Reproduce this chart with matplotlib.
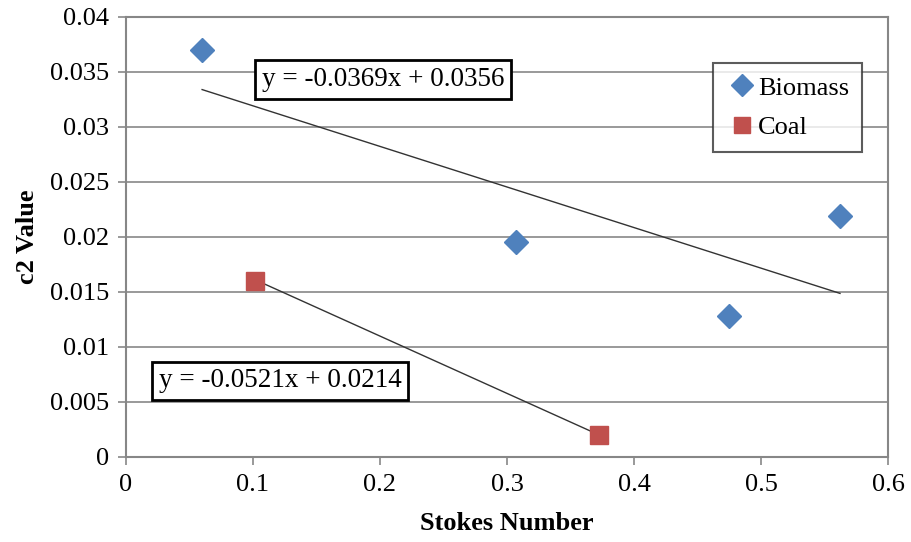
import matplotlib.pyplot as plt
import numpy as np

plt.rcParams['font.family'] = ['Liberation Serif', 'DejaVu Serif']

# stokes number vs c2 value
biomass_x = [0.060, 0.307, 0.475, 0.562]
biomass_y = [0.0370, 0.0195, 0.0128, 0.0219]
coal_x = [0.102, 0.372]
coal_y = [0.0160, 0.0020]

# linear trendlines (slope, intercept)
biomass_fit = (-0.0369, 0.0356)
coal_fit = (-0.0521, 0.0214)

xticks = [0, 0.1, 0.2, 0.3, 0.4, 0.5, 0.6]
yticks = [0, 0.005, 0.01, 0.015, 0.02, 0.025, 0.03, 0.035, 0.04]

fig = plt.figure(figsize=(9.12, 5.42), dpi=100)
ax = fig.add_axes([0.138, 0.157, 0.836, 0.812])

grid_col = '#878787'
for v in yticks[1:]:
    ax.axhline(v, color=grid_col, lw=1.2, zorder=0)

def trend(xs, fit):
    t = np.array([min(xs), max(xs)])
    return t, fit[0] * t + fit[1]

tx, ty = trend(biomass_x, biomass_fit)
ax.plot(tx, ty, color='#333333', lw=1.0, zorder=2)
tx, ty = trend(coal_x, coal_fit)
ax.plot(tx, ty, color='#333333', lw=1.0, zorder=2)

ax.plot(biomass_x, biomass_y, 'D', color='#4F81BD', ms=12, mec='#4F81BD',
        ls='none', label='Biomass', zorder=3)
ax.plot(coal_x, coal_y, 's', color='#C0504D', ms=13, mec='#C0504D',
        ls='none', label='Coal', zorder=3)

box = dict(boxstyle='square,pad=0.25', fc='white', ec='black', lw=2)
ax.text(0.107, 0.0343, 'y = -0.0369x + 0.0356', fontsize=19.5,
        va='center', ha='left', bbox=box, zorder=4)
ax.text(0.026, 0.0069, 'y = -0.0521x + 0.0214', fontsize=19.5,
        va='center', ha='left', bbox=box, zorder=4)

ax.set_xlim(0, 0.6)
ax.set_ylim(0, 0.04)
ax.set_xticks(xticks)
ax.set_xticklabels(['0', '0.1', '0.2', '0.3', '0.4', '0.5', '0.6'])
ax.set_yticks(yticks)
ax.set_yticklabels(['0', '0.005', '0.01', '0.015', '0.02', '0.025', '0.03', '0.035', '0.04'])
ax.tick_params(direction='out', length=6, width=1.2, color=grid_col,
               labelsize=19, pad=6)

for s in ax.spines.values():
    s.set_color(grid_col)
    s.set_linewidth(1.5)

ax.set_xlabel('Stokes Number', fontsize=19, fontweight='bold', labelpad=12)
ax.set_ylabel('c2 Value', fontsize=19, fontweight='bold', labelpad=8)

leg = ax.legend(loc='upper right', bbox_to_anchor=(0.966, 0.895), fontsize=19,
                frameon=True, fancybox=False, edgecolor='#333333',
                handletextpad=0.0, handlelength=1.2, borderpad=0.5,
                borderaxespad=0, labelspacing=0.6, markerscale=0.9)
leg.get_frame().set_linewidth(1.5)

fig.savefig('out.png', dpi=100)
